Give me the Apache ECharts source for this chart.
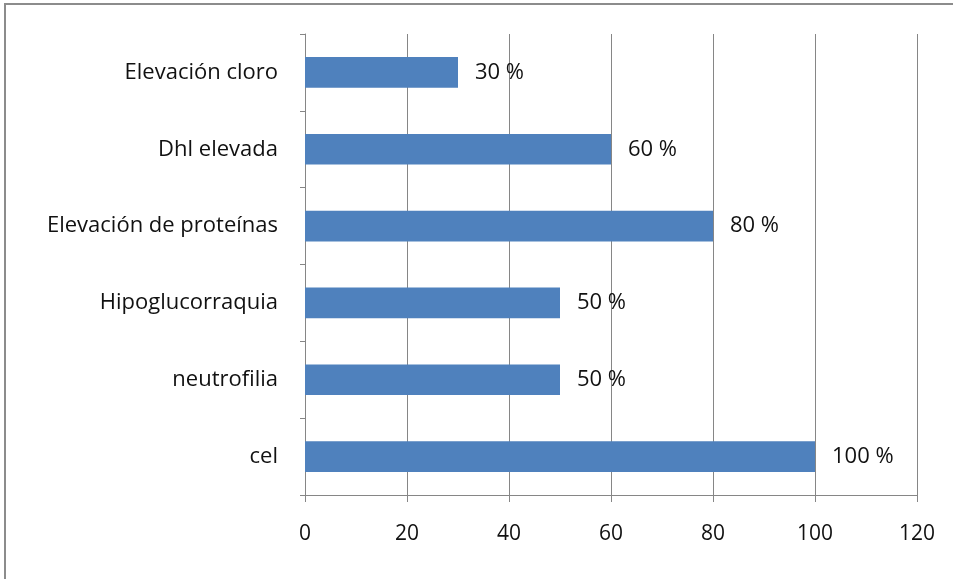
<!DOCTYPE html>
<html>
<head>
<meta charset="utf-8">
<script src="https://cdn.jsdelivr.net/npm/echarts@6/dist/echarts.min.js"></script>
<style>
    html, body { margin: 0; padding: 0; background: #fff; }
    #frame {
        position: absolute; left: 4px; top: 3px; width: 949px; height: 576px;
        border-top: 2px solid #8c8c8c; border-left: 2px solid #8c8c8c;
        box-sizing: border-box;
    }
    #main { position: absolute; left: 0; top: 0; width: 953px; height: 579px; }
</style>
</head>
<body>
<div id="frame"></div>
<div id="main"></div>
<script>
// 类别（从下到上）
var categories = ['cel', 'neutrofilia', 'Hipoglucorraquia', 'Elevación de proteínas', 'Dhl elevada', 'Elevación cloro'];
// 百分比
var values = [100, 50, 50, 80, 60, 30];
// 横轴刻度
var xTicks = [0, 20, 40, 60, 80, 100, 120];

var fontName = 'Open Sans';

function chartRender() {
    var barChart = echarts.init(document.getElementById('main'));
    var option = {
        animation: false,
        grid: {
            left: 305,
            right: 36,
            top: 34,
            bottom: 84
        },
        // 坐标轴X
        xAxis: {
            type: 'value',
            min: xTicks[0],
            max: xTicks[xTicks.length - 1],
            interval: xTicks[1] - xTicks[0],
            axisLine: { show: true, lineStyle: { color: '#868686', width: 1 } },
            axisTick: { show: true, length: 7, lineStyle: { color: '#868686' } },
            splitLine: { show: true, lineStyle: { color: '#868686', width: 1 } },
            axisLabel: {
                color: '#111',
                fontSize: 21,
                fontFamily: fontName,
                margin: 29
            }
        },
        // 坐标轴Y
        yAxis: {
            type: 'category',
            data: categories,
            axisLine: { show: true, lineStyle: { color: '#868686', width: 1 } },
            axisTick: { show: true, length: 5, lineStyle: { color: '#868686' } },
            axisLabel: {
                color: '#111',
                fontSize: 22,
                fontFamily: fontName,
                margin: 27
            }
        },
        series: [{
            type: 'bar',
            data: values,
            barWidth: '40%',
            itemStyle: { color: '#4F81BD' },
            label: {
                show: true,
                position: 'right',
                distance: 17,
                formatter: '{c} %',
                color: '#111',
                fontSize: 22,
                fontFamily: fontName
            }
        }]
    };
    barChart.setOption(option);
}
chartRender();
</script>
</body>
</html>
